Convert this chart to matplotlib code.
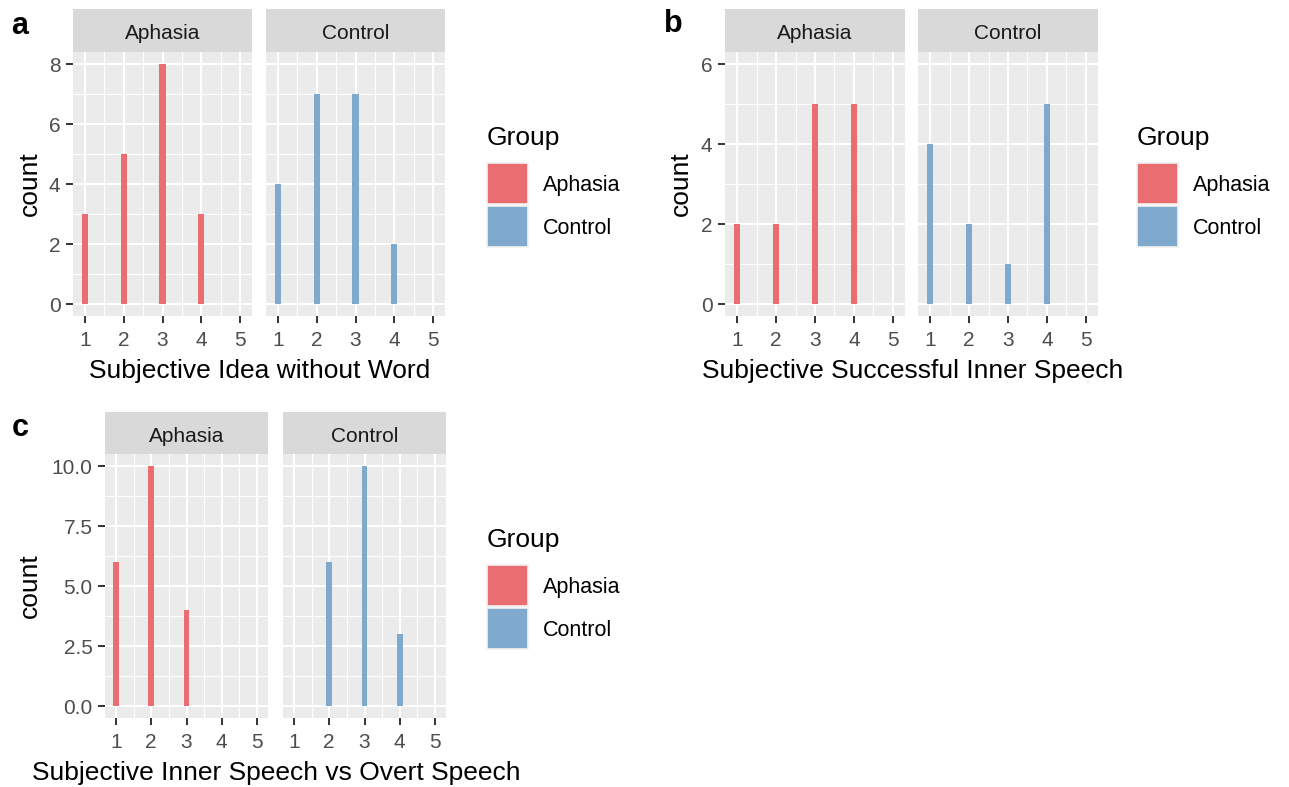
import numpy as np
import matplotlib
matplotlib.use("Agg")
from matplotlib import pyplot as plt
from matplotlib.patches import Rectangle

# data: counts per rating (1..5) for each group
ratings = [1, 2, 3, 4, 5]
groups = ["Aphasia", "Control"]

idea_aphasia = [3, 5, 8, 3, 0]
idea_control = [4, 7, 7, 2, 0]

success_aphasia = [2, 2, 5, 5, 0]
success_control = [4, 2, 1, 5, 0]

overt_aphasia = [6, 10, 4, 0, 0]
overt_control = [0, 6, 10, 3, 0]

colors = {"Aphasia": "#EA6E71", "Control": "#80AACD"}

W, H = 1289, 787
plt.rcParams["font.family"] = ["Liberation Sans", "DejaVu Sans"]

fig = plt.figure(figsize=(W / 100, H / 100), dpi=100)


def box(x0, y0, x1, y1):
    # pixel box (top-down) -> figure fraction rect
    return [x0 / W, 1 - y1 / H, (x1 - x0) / W, (y1 - y0) / H]


def pt(x, y):
    return x / W, 1 - y / H


def facet_panel(tag, xlabel, data, yticks, ylim, ylabels,
                cols, top, bottom, strip_h, count_x, tag_xy,
                legend_x, legend_y):
    # cols: list of (left, right) pixel positions of the two facets
    for i, (g, counts) in enumerate(zip(groups, data)):
        x0, x1 = cols[i]
        ax = fig.add_axes(box(x0, top, x1, bottom))
        ax.set_facecolor("#EBEBEB")
        ax.bar(ratings, counts, width=0.16, color=colors[g], zorder=3)
        ax.set_xlim(0.69, 5.31)
        ax.set_ylim(*ylim)
        ax.set_xticks(ratings)
        ax.set_xticks([1.5, 2.5, 3.5, 4.5], minor=True)
        ax.set_yticks(yticks)
        ystep = yticks[1] - yticks[0]
        ax.set_yticks([v + ystep / 2 for v in yticks[:-1]], minor=True)
        ax.grid(which="major", color="white", lw=1.5, zorder=1)
        ax.grid(which="minor", color="white", lw=0.8, zorder=1)
        for s in ax.spines.values():
            s.set_visible(False)
        ax.tick_params(which="minor", length=0)
        ax.tick_params(which="major", length=5, width=1.4, color="#333333",
                       labelcolor="#4D4D4D", labelsize=15, pad=4)
        ax.tick_params(axis="x", which="major", pad=5.5)
        if i == 0:
            ax.set_yticklabels(ylabels)
        else:
            ax.tick_params(axis="y", which="major", length=0, labelleft=False)

        sax = fig.add_axes(box(x0, top - strip_h, x1, top))
        sax.set_facecolor("#D9D9D9")
        sax.set_xticks([])
        sax.set_yticks([])
        for s in sax.spines.values():
            s.set_visible(False)
        sax.text(0.5, 0.42, g, ha="center", va="center", fontsize=15,
                 color="#1A1A1A", transform=sax.transAxes)

    left = cols[0][0]
    right = cols[1][1]
    fig.text(*pt((left + right) / 2 + 1, bottom + 55), xlabel, ha="center",
             va="center", fontsize=19)
    fig.text(*pt(count_x, (top + bottom) / 2), "count", ha="center",
             va="center", rotation=90, fontsize=19)
    fig.text(*pt(*tag_xy), tag, ha="center",
             va="center", fontsize=22, fontweight="bold")

    # legend
    fig.text(*pt(legend_x, legend_y), "Group", ha="left", va="center",
             fontsize=19)
    for k, g in enumerate(groups):
        ky = legend_y + 25 + k * 43
        fig.patches.append(Rectangle(pt(legend_x, ky + 41), 41 / W, 41 / H,
                                     transform=fig.transFigure,
                                     facecolor=colors[g], edgecolor="#F2F2F2",
                                     lw=1.2))
        fig.text(*pt(legend_x + 56, ky + 22), g, ha="left", va="center",
                 fontsize=15.5)


facet_panel("a", "Subjective Idea without Word",
            [idea_aphasia, idea_control],
            [0, 2, 4, 6, 8], (-0.4, 8.4), ["0", "2", "4", "6", "8"],
            [(73, 252), (266, 445)], 52, 316, 43, 30, (20, 26), 487, 138)

facet_panel("b", "Subjective Successful Inner Speech",
            [success_aphasia, success_control],
            [0, 2, 4, 6], (-0.3, 6.3), ["0", "2", "4", "6"],
            [(725, 905), (918, 1098)], 52, 316, 43, 681, (673, 24), 1137, 138)

facet_panel("c", "Subjective Inner Speech vs Overt Speech",
            [overt_aphasia, overt_control],
            [0, 2.5, 5, 7.5, 10], (-0.5, 10.5),
            ["0.0", "2.5", "5.0", "7.5", "10.0"],
            [(105, 268), (283, 446)], 454, 718, 42, 30, (20, 428), 487, 540)

fig.savefig("out.png", dpi=100, facecolor="white")
